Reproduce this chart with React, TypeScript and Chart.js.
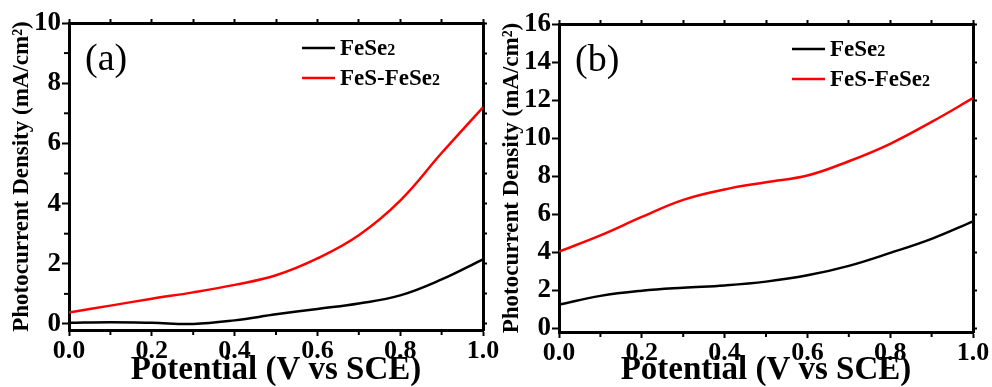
import React, { useEffect, useRef } from 'react';
import { Chart, registerables } from 'chart.js';

Chart.register(...registerables);

// ---------- data ----------
const seriesNames = ['FeSe2', 'FeS-FeSe2'];
const seriesColors = ['#000000', '#ff0000'];

const potentialA = [0, 0.1, 0.2, 0.3, 0.4, 0.5, 0.6, 0.7, 0.8, 0.9, 1.0];
const fese2A = [0.04, 0.06, 0.04, 0.0, 0.12, 0.32, 0.5, 0.68, 0.95, 1.48, 2.15];
const fesFese2A = [0.38, 0.61, 0.84, 1.05, 1.3, 1.62, 2.18, 2.95, 4.1, 5.68, 7.2];

const potentialB = [0, 0.1, 0.2, 0.3, 0.4, 0.5, 0.6, 0.7, 0.8, 0.9, 1.0];
const fese2B = [1.24, 1.7, 1.97, 2.13, 2.25, 2.45, 2.78, 3.28, 3.96, 4.7, 5.62];
const fesFese2B = [4.03, 4.88, 5.85, 6.75, 7.3, 7.68, 8.03, 8.78, 9.7, 10.85, 12.1];

const xMinorTicks = [0.1, 0.3, 0.5, 0.7, 0.9];
const yMinorTicksA = [1, 3, 5, 7, 9];
const yMinorTicksB: number[] = [];

const xTitle = 'Potential (V vs SCE)';
const yTitle = 'Photocurrent Density (mA/cm²)';

const SERIF = '"Liberation Serif", "Times New Roman", serif';

type PanelProps = {
  label: string;
  xs: number[];
  ys: number[][];
  yMax: number;
  yStep: number;
  yRightStep: number;
  yMinor: number[];
  width: number;
  height: number;
  top: number;
  bottom: number;
  right: number;
  left: number;
};

const minorTicksPlugin = {
  id: 'minorTicks',
  afterDraw(chart: any, _args: any, opts: any) {
    const { ctx, chartArea } = chart;
    const xs = chart.scales.x;
    const ys = chart.scales.y;
    ctx.save();
    ctx.strokeStyle = '#000';
    ctx.lineWidth = 2;
    (opts.x || []).forEach((v: number) => {
      const px = xs.getPixelForValue(v);
      ctx.beginPath();
      ctx.moveTo(px, chartArea.bottom);
      ctx.lineTo(px, chartArea.bottom + 5);
      ctx.stroke();
    });
    (opts.y || []).forEach((v: number) => {
      const py = ys.getPixelForValue(v);
      ctx.beginPath();
      ctx.moveTo(chartArea.left, py);
      ctx.lineTo(chartArea.left - 5, py);
      ctx.stroke();
    });
    ctx.restore();
  },
};

const legendPlugin = {
  id: 'inlineLegend',
  afterDraw(chart: any, _args: any, opts: any) {
    const { ctx, chartArea } = chart;
    ctx.save();
    chart.data.datasets.forEach((ds: any, i: number) => {
      const ly = chartArea.top + 25 + i * 30;
      const lx = chartArea.left + 233;
      ctx.strokeStyle = ds.borderColor;
      ctx.lineWidth = 2.5;
      ctx.beginPath();
      ctx.moveTo(lx, ly);
      ctx.lineTo(lx + 33, ly);
      ctx.stroke();
      const m = /^(.*?)(\d)$/.exec(ds.label);
      const main = m ? m[1] : ds.label;
      const sub = m ? m[2] : '';
      const tx = chartArea.left + 271;
      const ty = chartArea.top + 32 + i * 30;
      ctx.fillStyle = '#000';
      ctx.textBaseline = 'alphabetic';
      ctx.textAlign = 'left';
      ctx.font = `bold 23px ${SERIF}`;
      ctx.fillText(main, tx, ty);
      const w = ctx.measureText(main).width;
      ctx.font = `bold 16px ${SERIF}`;
      ctx.fillText(sub, tx + w, ty);
    });
    ctx.font = `38px ${SERIF}`;
    ctx.fillStyle = '#000';
    ctx.textBaseline = 'alphabetic';
    ctx.fillText(opts.panelLabel, chartArea.left + 16, chartArea.top + 47);
    ctx.restore();
  },
};

function Panel(p: PanelProps) {
  const ref = useRef<HTMLCanvasElement | null>(null);
  useEffect(() => {
    if (!ref.current) return;
    const datasets = p.ys.map((arr, i) => ({
      label: seriesNames[i],
      data: p.xs.map((x, j) => ({ x, y: arr[j] })),
      borderColor: seriesColors[i],
      backgroundColor: seriesColors[i],
      borderWidth: 2.5,
      pointRadius: 0,
      tension: 0.4,
      fill: false,
    }));
    const axisBorder = { display: true, width: 3, color: '#000' };
    const chart = new Chart(ref.current, {
      type: 'line',
      data: { datasets },
      options: {
        responsive: false,
        animation: false,
        devicePixelRatio: 1,
        layout: { padding: 0 },
        plugins: {
          legend: { display: false },
          tooltip: { enabled: false },
          minorTicks: { x: xMinorTicks, y: p.yMinor },
          inlineLegend: { panelLabel: p.label },
        } as any,
        scales: {
          x: {
            type: 'linear',
            position: 'bottom',
            min: 0,
            max: 1,
            border: axisBorder,
            grid: { drawOnChartArea: false, tickLength: 6, tickWidth: 2, tickColor: '#000' },
            ticks: {
              stepSize: 0.2,
              color: '#000',
              padding: 0,
              maxRotation: 0,
              autoSkip: false,
              font: { family: SERIF, size: 26, weight: 'bold' },
              callback: (v: any) => Number(v).toFixed(1),
            },
            title: {
              display: true,
              text: xTitle,
              color: '#000',
              font: { family: SERIF, size: 33, weight: 'bold', lineHeight: 1 },
              padding: { top: 0, bottom: 0 },
            },
            afterFit: (s: any) => { s.height = p.height - p.bottom; },
          },
          x2: {
            type: 'linear',
            position: 'top',
            min: 0,
            max: 1,
            border: axisBorder,
            grid: { drawOnChartArea: false, tickLength: 4, tickWidth: 2, tickColor: '#000' },
            ticks: { stepSize: 0.1, display: false },
            afterFit: (s: any) => { s.height = p.top; },
          },
          y: {
            type: 'linear',
            position: 'left',
            min: -0.2,
            max: p.yMax,
            border: axisBorder,
            grid: { drawOnChartArea: false, tickLength: 7, tickWidth: 2, tickColor: '#000' },
            ticks: {
              stepSize: p.yStep,
              includeBounds: false,
              color: '#000',
              padding: 1,
              font: { family: SERIF, size: 27, weight: 'bold' },
              callback: (v: any) => String(Math.round(Number(v))),
            },
            title: {
              display: true,
              text: yTitle,
              color: '#000',
              font: { family: SERIF, size: 23, weight: 'bold', lineHeight: 1 },
              padding: { top: 11, bottom: 0 },
            },
            afterFit: (s: any) => { s.width = p.left; },
          },
          y2: {
            type: 'linear',
            position: 'right',
            min: -0.2,
            max: p.yMax,
            border: axisBorder,
            grid: { drawOnChartArea: false, tickLength: 4, tickWidth: 2, tickColor: '#000' },
            ticks: { stepSize: p.yRightStep, includeBounds: false, display: false },
            afterFit: (s: any) => { s.width = p.width - p.right; },
          },
        },
      } as any,
      plugins: [minorTicksPlugin, legendPlugin],
    });
    return () => chart.destroy();
  }, []);
  return <canvas ref={ref} width={p.width} height={p.height} style={{ display: 'block', width: p.width, height: p.height }} />;
}

export default function App() {
  useEffect(() => {
    document.body.style.margin = '0';
  }, []);
  return (
    <div style={{ position: 'relative', width: 992, height: 387, background: '#fff', overflow: 'hidden' }}>
      <div style={{ position: 'absolute', left: 0, top: 0 }}>
        <Panel
          label="(a)"
          xs={potentialA}
          ys={[fese2A, fesFese2A]}
          yMax={10}
          yStep={2}
          yRightStep={1}
          yMinor={yMinorTicksA}
          width={510}
          height={387}
          top={23}
          bottom={330}
          left={69}
          right={483}
        />
      </div>
      <div style={{ position: 'absolute', left: 490, top: 0 }}>
        <Panel
          label="(b)"
          xs={potentialB}
          ys={[fese2B, fesFese2B]}
          yMax={16}
          yStep={2}
          yRightStep={2}
          yMinor={yMinorTicksB}
          width={502}
          height={387}
          top={24}
          bottom={332}
          left={69}
          right={483}
        />
      </div>
    </div>
  );
}
